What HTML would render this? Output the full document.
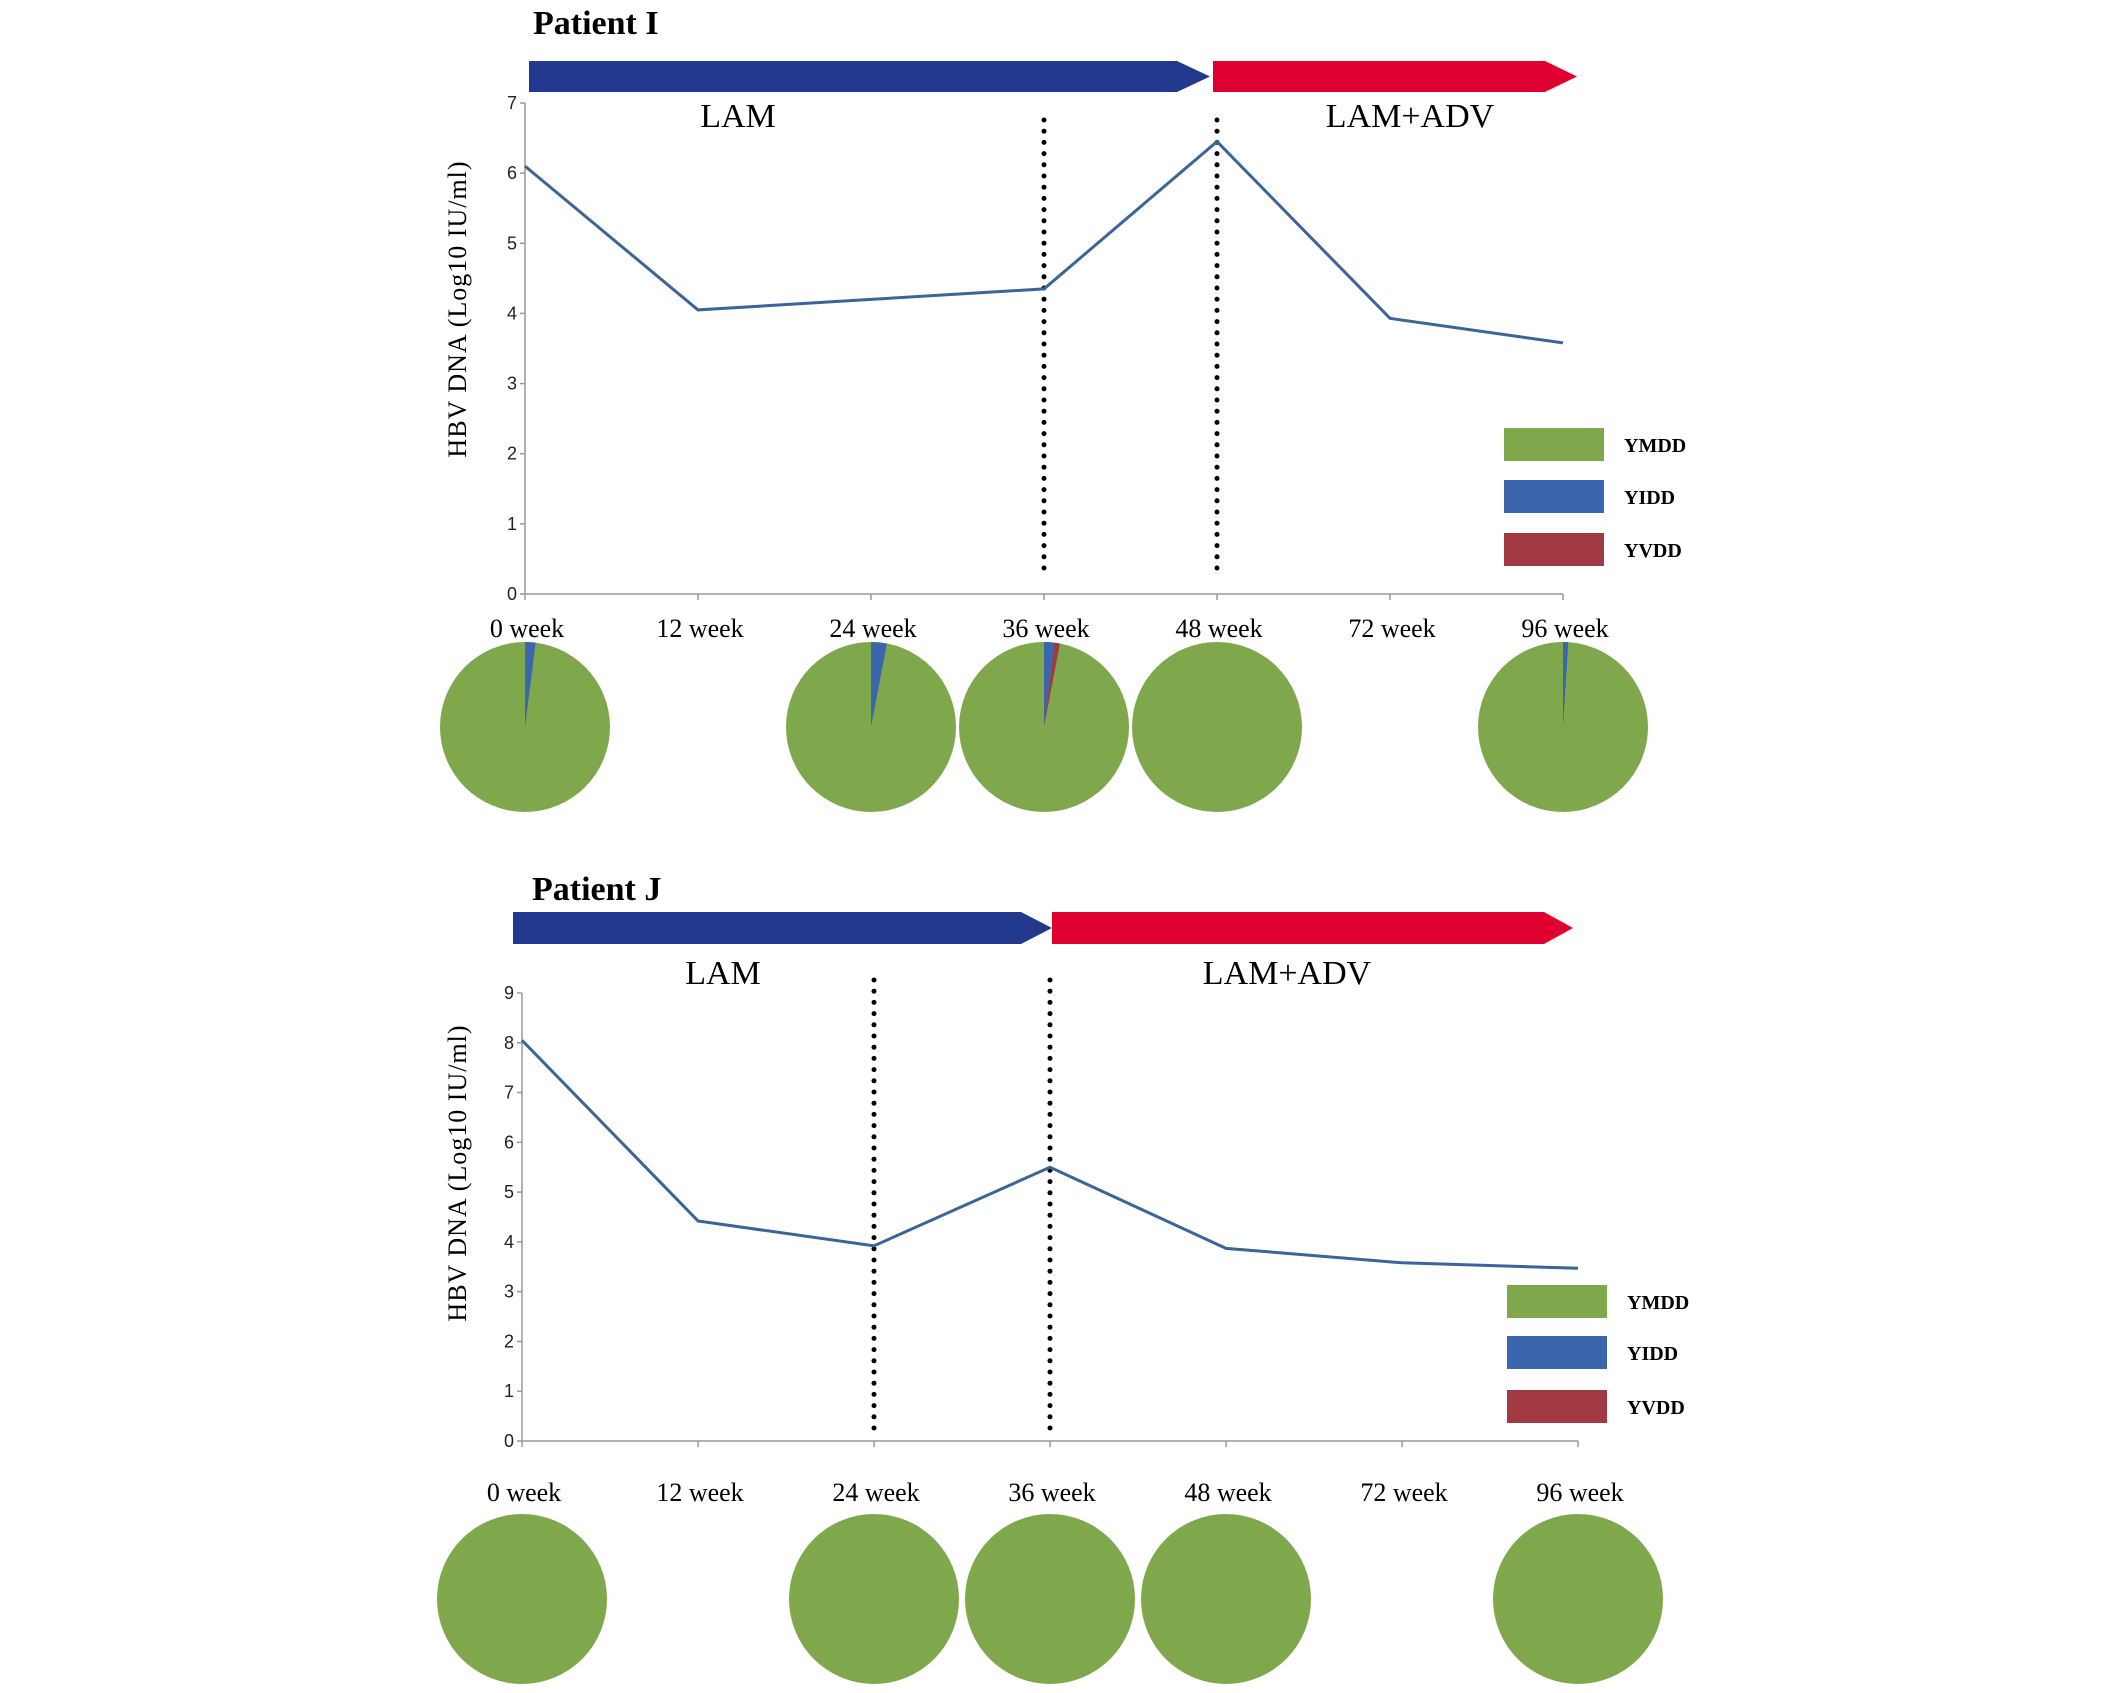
<!DOCTYPE html>
<html><head><meta charset="utf-8">
<style>
html,body{margin:0;padding:0;background:#fff;}
svg{display:block;}
.serif{font-family:"Liberation Serif",serif;}
.sans{font-family:"Liberation Sans",sans-serif;}
</style></head>
<body>
<svg id="fig" width="2126" height="1693" viewBox="0 0 2126 1693" xmlns="http://www.w3.org/2000/svg"></svg>
<script>
// ---- data ----
const weeks = ["0 week","12 week","24 week","36 week","48 week","72 week","96 week"];
const patientIValues = [6.1, 4.05, 4.2, 4.35, 6.45, 3.93, 3.58];
const patientJValues = [8.05, 4.42, 3.92, 5.5, 3.87, 3.58, 3.47];
const patientITicks = [0,1,2,3,4,5,6,7];
const patientJTicks = [0,1,2,3,4,5,6,7,8,9];
// pie fractions per week (null = no pie): YIDD, YVDD (rest YMDD)
const patientIYIDD = [0.02, null, 0.03, 0.02, 0, null, 0.01];
const patientIYVDD = [0, null, 0, 0.01, 0, null, 0];
const patientJYIDD = [0, null, 0, 0, 0, null, 0];
const patientJYVDD = [0, null, 0, 0, 0, null, 0];
const legendLabels = ["YMDD","YIDD","YVDD"];
const patientIDotted = [3,4];
const patientJDotted = [2,3];

const NS="http://www.w3.org/2000/svg";
const svg=document.getElementById('fig');
function mk(tag,attrs,parent){const e=document.createElementNS(NS,tag);for(const k in attrs)e.setAttribute(k,attrs[k]);(parent||svg).appendChild(e);return e;}
const GREEN="#7fa84c",BLUE="#3b66ad",RED="#a23a43",LINE="#3a6596";

function panel(cfg){
  const g=mk('g',{});
  
  
  const x0=cfg.x0,x1=cfg.x1,y0=cfg.y0,yTop=cfg.yTop,ymax=cfg.ymax;
  const xs=i=>x0+(x1-x0)*i/(weeks.length-1);
  const ys=v=>y0-(y0-yTop)*v/ymax;
  const t=mk('text',{x:cfg.titleX,y:cfg.titleY,'font-size':34,'font-weight':'bold',class:'serif',fill:'#000'},g);
  t.textContent=cfg.title;
  
  
  const a=cfg.arrows;
  const b=mk('polygon',{points:`${a.b0},${a.y1} ${a.bb},${a.y1} ${a.bt},${(a.y1+a.y2)/2} ${a.bb},${a.y2} ${a.b0},${a.y2}`,fill:'#22398f'},g);
  
  
  const r=mk('polygon',{points:`${a.r0},${a.y1} ${a.rb},${a.y1} ${a.rt},${(a.y1+a.y2)/2} ${a.rb},${a.y2} ${a.r0},${a.y2}`,fill:'#e0002f'},g);
  
  
  const l1=mk('text',{x:cfg.lamX,y:cfg.lamY,'font-size':34,class:'serif','text-anchor':'middle',fill:'#000'},g);
  l1.textContent='LAM';
  
  
  const l2=mk('text',{x:cfg.advX,y:cfg.lamY,'font-size':34,class:'serif','text-anchor':'middle',fill:'#000'},g);
  l2.textContent='LAM+ADV';
  
  
  const ya=mk('line',{x1:x0,y1:y0,x2:x0,y2:yTop,stroke:'#999','stroke-width':1.5},g);
  
  
  const xa=mk('line',{x1:x0,y1:y0,x2:x1,y2:y0,stroke:'#999','stroke-width':1.5},g);
  
  
  cfg.ticks.forEach(v=>{
    mk('line',{x1:x0-5,y1:ys(v),x2:x0,y2:ys(v),stroke:'#999','stroke-width':1.5},g);
    const tl=mk('text',{x:x0-8,y:ys(v)+6,'font-size':18,class:'sans','text-anchor':'end',fill:'#222'},g);
    tl.textContent=v;
    
    
  });
  weeks.forEach((w,i)=>{
    mk('line',{x1:xs(i),y1:y0,x2:xs(i),y2:y0+6,stroke:'#999','stroke-width':1.5},g);
    const wl=mk('text',{x:xs(i)+2,y:cfg.weekY,'font-size':26,class:'serif','text-anchor':'middle',fill:'#000'},g);
    wl.textContent=w;
    
    
  });
  const yt=mk('text',{x:0,y:0,'font-size':26,class:'serif','text-anchor':'middle',fill:'#000','letter-spacing':'1',transform:`translate(${cfg.yTitleX},${cfg.yTitleY}) rotate(-90)`},g);
  yt.textContent='HBV DNA (Log10 IU/ml)';
  
  
  cfg.dotted.forEach(i=>{
    const d=mk('line',{x1:xs(i),y1:cfg.dotTop,x2:xs(i),y2:cfg.dotBot,stroke:'#000','stroke-width':5,'stroke-linecap':'round','stroke-dasharray':'0 11.2'},g);
    
    
  });
  const pl=mk('polyline',{points:cfg.values.map((v,i)=>xs(i)+','+ys(v)).join(' '),fill:'none',stroke:LINE,'stroke-width':3},g);
  
  
  const cols=[GREEN,BLUE,RED];
  legendLabels.forEach((lab,k)=>{
    const by=cfg.legY[k];
    const rc=mk('rect',{x:cfg.legX,y:by,width:100,height:33,fill:cols[k]},g);
    
    
    const tx=mk('text',{x:cfg.legX+120,y:by+24,'font-size':20,'font-weight':'bold',class:'serif',fill:'#000'},g);
    tx.textContent=lab;
    
    
  });
  const R=85;
  weeks.forEach((w,i)=>{
    const yidd=cfg.yidd[i],yvdd=cfg.yvdd[i];
    if(yidd===null)return;
    const cx=xs(i),cy=cfg.pieY;
    const pg=mk('g',{},g);
    
    
    mk('circle',{cx:cx,cy:cy,r:R,fill:GREEN},pg);
    let start=0;
    [[yidd,BLUE],[yvdd,RED]].forEach(([f,c])=>{
      if(f>0){
        const a0=start*2*Math.PI,a1=(start+f)*2*Math.PI;
        const p=`M${cx},${cy} L${cx+R*Math.sin(a0)},${cy-R*Math.cos(a0)} A${R},${R} 0 0 1 ${cx+R*Math.sin(a1)},${cy-R*Math.cos(a1)} Z`;
        mk('path',{d:p,fill:c},pg);
        start+=f;
      }
    });
  });
}

panel({id:'patient-i',title:'Patient I',titleX:533,titleY:34,
  arrows:{b0:529,bb:1177,bt:1210,r0:1213,rb:1545,rt:1577,y1:61,y2:92},
  lamX:738,lamY:127,advX:1410,
  x0:525,x1:1563,y0:594,yTop:103,ymax:7,ticks:patientITicks,values:patientIValues,
  weekY:637,yTitleX:466,yTitleY:309,dotted:patientIDotted,dotTop:120,dotBot:570,
  legX:1504,legY:[428,480,533],yidd:patientIYIDD,yvdd:patientIYVDD,pieY:727});

panel({id:'patient-j',title:'Patient J',titleX:532,titleY:900,
  arrows:{b0:513,bb:1021,bt:1052,r0:1052,rb:1544,rt:1573,y1:912,y2:944},
  lamX:723,lamY:984,advX:1287,
  x0:522,x1:1578,y0:1441,yTop:993,ymax:9,ticks:patientJTicks,values:patientJValues,
  weekY:1501,yTitleX:466,yTitleY:1173,dotted:patientJDotted,dotTop:980,dotBot:1428,
  legX:1507,legY:[1285,1336,1390],yidd:patientJYIDD,yvdd:patientJYVDD,pieY:1599});
</script>
</body></html>
